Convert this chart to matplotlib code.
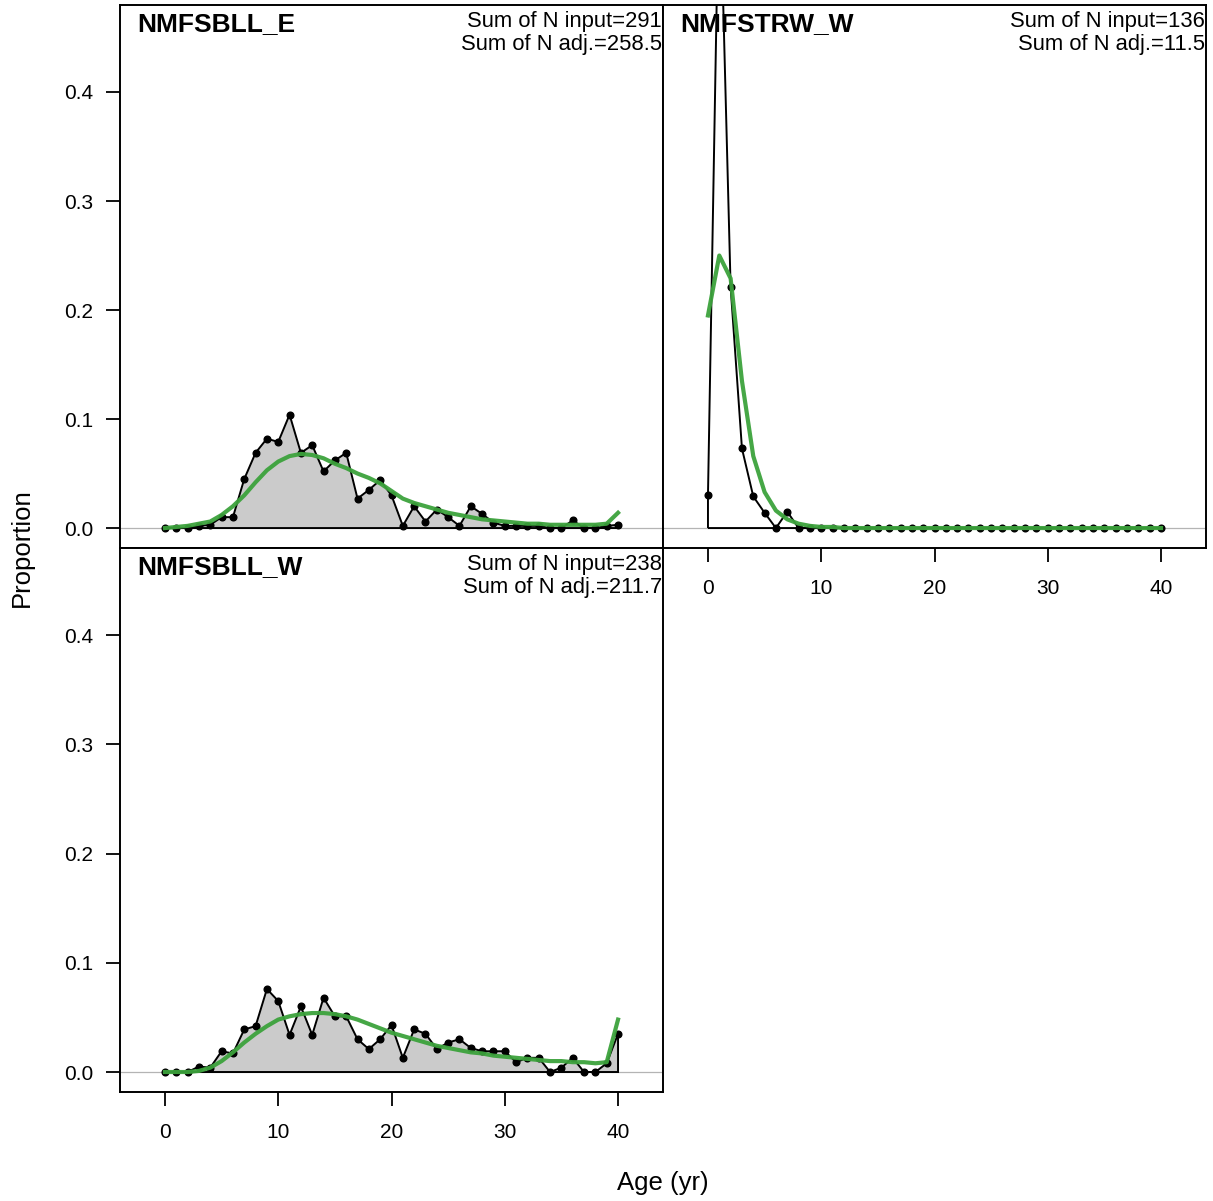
import numpy as np
import matplotlib
matplotlib.use("Agg")
import matplotlib.pyplot as plt

plt.rcParams['font.family'] = ['Liberation Sans', 'DejaVu Sans']

ages = np.arange(0, 41)

# NMFSBLL_E
obs_bll_e = [0.0, 0.0, 0.0, 0.002, 0.003, 0.010, 0.010, 0.045, 0.069, 0.082,
             0.079, 0.104, 0.069, 0.076, 0.052, 0.062, 0.069, 0.027, 0.035, 0.044,
             0.030, 0.002, 0.020, 0.006, 0.017, 0.010, 0.002, 0.020, 0.013, 0.005,
             0.002, 0.002, 0.002, 0.002, 0.0, 0.0, 0.007, 0.0, 0.0, 0.002, 0.003]
exp_bll_e = [0.0, 0.001, 0.002, 0.004, 0.006, 0.012, 0.020, 0.030, 0.042, 0.053,
             0.061, 0.066, 0.068, 0.067, 0.064, 0.059, 0.055, 0.050, 0.046, 0.041,
             0.034, 0.027, 0.023, 0.020, 0.017, 0.014, 0.012, 0.010, 0.008, 0.007,
             0.006, 0.005, 0.004, 0.004, 0.003, 0.003, 0.003, 0.003, 0.003, 0.004, 0.014]

# NMFSTRW_W
obs_trw_w = [0.030, 0.618, 0.221, 0.073, 0.029, 0.014, 0.0, 0.015] + [0.0] * 33
exp_trw_w = [0.195, 0.250, 0.229, 0.135, 0.066, 0.033, 0.016, 0.008, 0.004, 0.002,
             0.001, 0.001] + [0.0] * 29

# NMFSBLL_W
obs_bll_w = [0.0, 0.0, 0.0, 0.005, 0.004, 0.019, 0.017, 0.039, 0.042, 0.076,
             0.065, 0.034, 0.060, 0.034, 0.068, 0.051, 0.051, 0.030, 0.021, 0.030,
             0.043, 0.013, 0.039, 0.035, 0.021, 0.027, 0.030, 0.022, 0.019, 0.019,
             0.019, 0.009, 0.013, 0.013, 0.0, 0.004, 0.013, 0.0, 0.0, 0.008, 0.035]
exp_bll_w = [0.0, 0.0, 0.0, 0.001, 0.004, 0.010, 0.018, 0.027, 0.035, 0.042,
             0.048, 0.051, 0.053, 0.054, 0.054, 0.053, 0.051, 0.048, 0.044, 0.040,
             0.036, 0.033, 0.030, 0.027, 0.024, 0.022, 0.020, 0.018, 0.017, 0.015,
             0.014, 0.013, 0.012, 0.011, 0.010, 0.010, 0.009, 0.009, 0.008, 0.009, 0.048]

fleets = ["NMFSBLL_E", "NMFSTRW_W", "NMFSBLL_W"]
n_input = ["291", "136", "238"]
n_adj = ["258.5", "11.5", "211.7"]

W, H = 1213, 1201
fig = plt.figure(figsize=(W / 100, H / 100), dpi=100)

def frac_box(x0, y0, x1, y1):
    return [x0 / W, 1 - y1 / H, (x1 - x0) / W, (y1 - y0) / H]

ax1 = fig.add_axes(frac_box(120, 5, 663, 548))
ax2 = fig.add_axes(frac_box(663, 5, 1206, 548))
ax3 = fig.add_axes(frac_box(120, 548, 663, 1092))

green = '#3ca23c'
fillc = '#cbcbcb'

def panel(ax, obs, exp, name, ninp, nadj, filled=True):
    obs = np.asarray(obs)
    exp = np.asarray(exp)
    ax.axhline(0, color='#b4b4b4', lw=0.9, zorder=0)
    px = np.concatenate([[ages[0]], ages, [ages[-1]]])
    py = np.concatenate([[0], obs, [0]])
    ax.fill(px, py, facecolor=fillc if filled else 'none', edgecolor='black',
            lw=1.4, zorder=1, joinstyle='miter')
    ax.plot(ages, obs, 'o', color='black', ms=4.8, zorder=3)
    ax.plot(ages, exp, '-', color=green, lw=3.0, zorder=4, alpha=0.95)
    ax.set_xlim(-3.97, 43.97)
    ax.set_ylim(-0.0183, 0.4798)
    for s in ax.spines.values():
        s.set_linewidth(1.4)
    ax.text(0.031, 0.987, name, transform=ax.transAxes, ha='left', va='top',
            fontsize=19, fontweight='bold')
    ax.text(0.998, 0.989, "Sum of N input=" + ninp + "\nSum of N adj.=" + nadj,
            transform=ax.transAxes, ha='right', va='top', fontsize=15.8,
            linespacing=1.1)
    ax.tick_params(labelsize=15, length=10, width=1.3, pad=9)

panel(ax1, obs_bll_e, exp_bll_e, fleets[0], n_input[0], n_adj[0])
panel(ax2, obs_trw_w, exp_trw_w, fleets[1], n_input[1], n_adj[1], filled=False)
panel(ax3, obs_bll_w, exp_bll_w, fleets[2], n_input[2], n_adj[2])

yt = [0.0, 0.1, 0.2, 0.3, 0.4]
xt = [0, 10, 20, 30, 40]
for ax in (ax1, ax3):
    ax.set_yticks(yt)
    ax.set_yticklabels([f"{v:.1f}" for v in yt])
ax2.set_yticks([])
ax1.set_xticks([])
for ax in (ax2, ax3):
    ax.set_xticks(xt)
    ax.set_xticklabels([str(v) for v in xt])
    ax.tick_params(axis='x', pad=12)

fig.text(22 / W, 1 - 548 / H, "Proportion", rotation=90, ha='center', va='center',
         fontsize=18.5)
fig.text(663 / W, 1 - 1183 / H, "Age (yr)", ha='center', va='center', fontsize=18.5)

fig.savefig("out.png", dpi=100)
